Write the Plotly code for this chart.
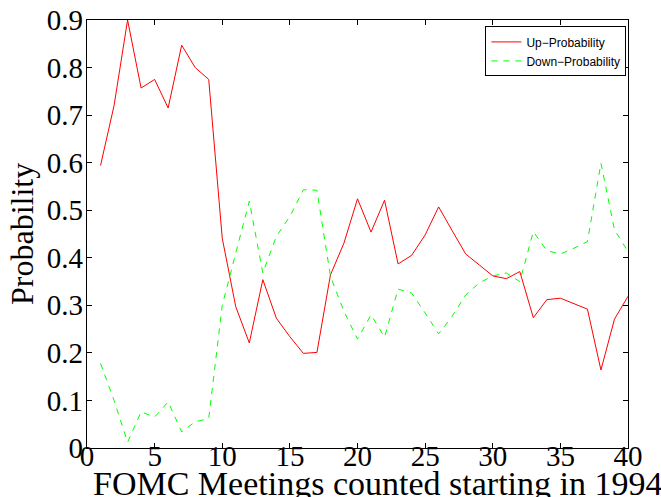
import plotly.graph_objects as go

meetings = list(range(1, 41))
up_prob = [0.594, 0.72, 0.90, 0.757, 0.775, 0.715, 0.847, 0.80, 0.775, 0.441,
           0.297, 0.221, 0.354, 0.273, 0.234, 0.199, 0.201, 0.364, 0.431, 0.524,
           0.454, 0.521, 0.387, 0.405, 0.448, 0.507, 0.457, 0.408, 0.385, 0.362,
           0.356, 0.371, 0.274, 0.312, 0.315, 0.303, 0.292, 0.164, 0.271, 0.319]
down_prob = [0.178, 0.10, 0.012, 0.076, 0.065, 0.097, 0.034, 0.055, 0.062, 0.30,
             0.41, 0.519, 0.368, 0.445, 0.487, 0.543, 0.542, 0.361, 0.287, 0.229,
             0.28, 0.233, 0.334, 0.326, 0.284, 0.24, 0.277, 0.322, 0.347, 0.362,
             0.368, 0.35, 0.455, 0.415, 0.408, 0.42, 0.434, 0.599, 0.459, 0.413]
x_ticks = [0, 5, 10, 15, 20, 25, 30, 35, 40]
y_ticks = [0, 0.1, 0.2, 0.3, 0.4, 0.5, 0.6, 0.7, 0.8, 0.9]
y_tick_text = ["0", "0.1", "0.2", "0.3", "0.4", "0.5", "0.6", "0.7", "0.8", "0.9"]

serif = "Liberation Serif"

fig = go.Figure()
fig.add_trace(go.Scatter(x=meetings, y=up_prob, mode="lines", name="Up\u2212Probability",
                         line=dict(color="#ff0000", width=1)))
fig.add_trace(go.Scatter(x=meetings, y=down_prob, mode="lines", name="Down\u2212Probability",
                         line=dict(color="#00ff00", width=1, dash="6px,6px")))

axis_common = dict(showline=True, linecolor="black", linewidth=1.3, mirror="ticks",
                   ticks="inside", ticklen=5, tickcolor="black", tickwidth=1,
                   showgrid=False, zeroline=False, automargin=False,
                   ticklabeloverflow="allow",
                   tickfont=dict(family=serif, size=29, color="black"))

fig.update_layout(
    width=661, height=497,
    margin=dict(l=87, r=33, t=20, b=49),
    paper_bgcolor="white", plot_bgcolor="white",
    xaxis=dict(range=[0, 40], tickvals=x_ticks, ticklabelstandoff=-18, **axis_common),
    yaxis=dict(range=[0, 0.9], tickvals=y_ticks, ticktext=y_tick_text,
               ticklabelstandoff=-3, **axis_common),
    showlegend=True,
    legend=dict(x=0.997, y=0.985, xanchor="right", yanchor="top",
                bgcolor="white", bordercolor="black", borderwidth=1,
                font=dict(family="Liberation Sans", size=12, color="black"),
                tracegroupgap=0, itemwidth=30),
    annotations=[
        dict(text="FOMC Meetings counted starting in 1994", xref="paper", yref="paper",
             x=0.007, y=0, xanchor="left", yanchor="top", yshift=-15, showarrow=False,
             font=dict(family=serif, size=34, color="black")),
        dict(text="Probability", xref="paper", yref="paper", x=0, y=0.5,
             xanchor="right", yanchor="middle", xshift=-45, textangle=-90, showarrow=False,
             font=dict(family=serif, size=32, color="black")),
    ],
)

fig.write_html("out.html", config={"displayModeBar": False},
               post_script="document.body.style.margin='0px';document.body.style.overflow='hidden';")
